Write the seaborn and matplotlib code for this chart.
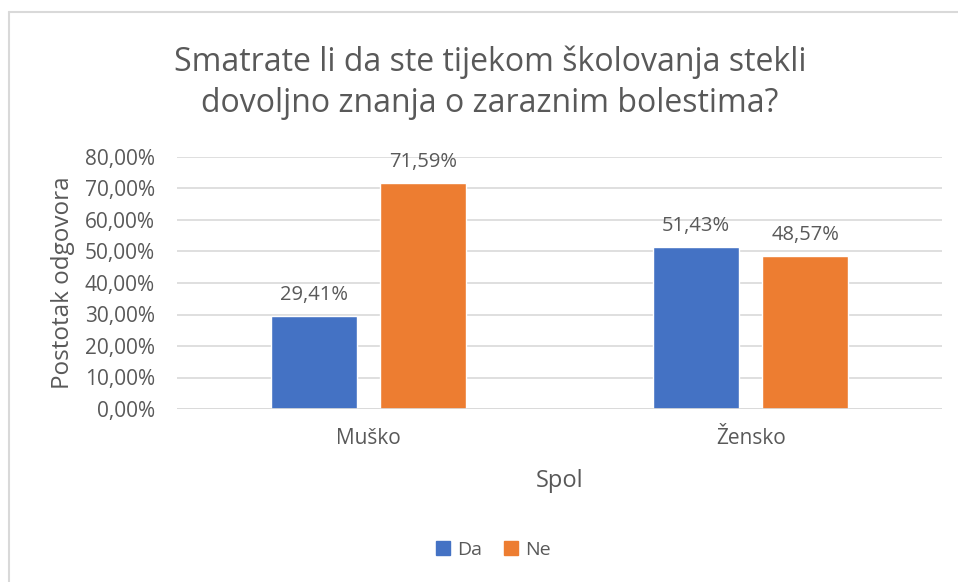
import matplotlib
matplotlib.use("Agg")
import matplotlib.pyplot as plt
import matplotlib.lines as mlines
import seaborn as sns
import pandas as pd

categories = ["Muško", "Žensko"]
series = ["Da", "Ne"]
da_values = [29.41, 51.43]
ne_values = [71.59, 48.57]
y_ticks = [0, 10, 20, 30, 40, 50, 60, 70, 80]

title = "Smatrate li da ste tijekom školovanja stekli\ndovoljno znanja o zaraznim bolestima?"
x_label = "Spol"
y_label = "Postotak odgovora"

colors = {"Da": "#4472C4", "Ne": "#ED7D31"}
text_color = "#595959"
grid_color = "#D9D9D9"

df = pd.DataFrame({
    "Spol": categories * 2,
    "Odgovor": ["Da"] * len(categories) + ["Ne"] * len(categories),
    "Postotak": da_values + ne_values,
})

sns.set_theme(style="white")
plt.rcParams["font.family"] = ["Open Sans", "DejaVu Sans"]

fig = plt.figure(figsize=(9.58, 5.82), dpi=100)
ax = fig.add_axes([177 / 958, 1 - 409 / 582, 765 / 958, 252 / 582])

sns.barplot(data=df, x="Spol", y="Postotak", hue="Odgovor", hue_order=series,
            order=categories, palette=colors, width=0.57, gap=0.21,
            saturation=1, legend=False, ax=ax, zorder=3)

def fmt(v):
    return f"{v:.2f}".replace(".", ",") + "%"

for container in ax.containers:
    ax.bar_label(container, labels=[fmt(v) for v in container.datavalues],
                 padding=8, fontsize=14.5, color=text_color)

ax.set_ylim(0, 80)
ax.set_yticks(y_ticks)
ax.set_yticklabels([fmt(v) for v in y_ticks])
ax.set_xlim(-0.5, 1.5)
ax.yaxis.grid(True, color=grid_color, linewidth=1.2, zorder=0)
ax.xaxis.grid(False)
for s in ax.spines.values():
    s.set_visible(False)
ax.axhline(0, color=grid_color, linewidth=1.2, zorder=4)
ax.tick_params(axis="y", labelsize=15, colors=text_color, length=0, pad=16)
ax.tick_params(axis="x", labelsize=15, colors=text_color, length=0, pad=14)
ax.set_xlabel(x_label, fontsize=17, color=text_color, labelpad=14)
ax.set_ylabel(y_label, fontsize=17.5, color=text_color, labelpad=7)

fig.text(490 / 958, 1 - 83 / 582, title, ha="center", va="center",
         fontsize=23, color=text_color, linespacing=1.32)

handles = [mlines.Line2D([], [], marker="s", linestyle="none", markersize=10,
                         color=colors[s], label=s) for s in series]
fig.legend(handles=handles, loc="center", bbox_to_anchor=(492 / 958, 1 - 550 / 582),
           ncol=2, frameon=False, fontsize=14, labelcolor=text_color,
           handletextpad=0.2, columnspacing=1.0, handlelength=1.0)

# chart frame: left and top edges
fig.add_artist(mlines.Line2D([9 / 958, 9 / 958], [0, 1 - 12 / 582],
                             transform=fig.transFigure, color="#D9D9D9", linewidth=1.5))
fig.add_artist(mlines.Line2D([9 / 958, 1], [1 - 12 / 582, 1 - 12 / 582],
                             transform=fig.transFigure, color="#D9D9D9", linewidth=1.5))

fig.savefig("out.png", dpi=100, facecolor="white")
